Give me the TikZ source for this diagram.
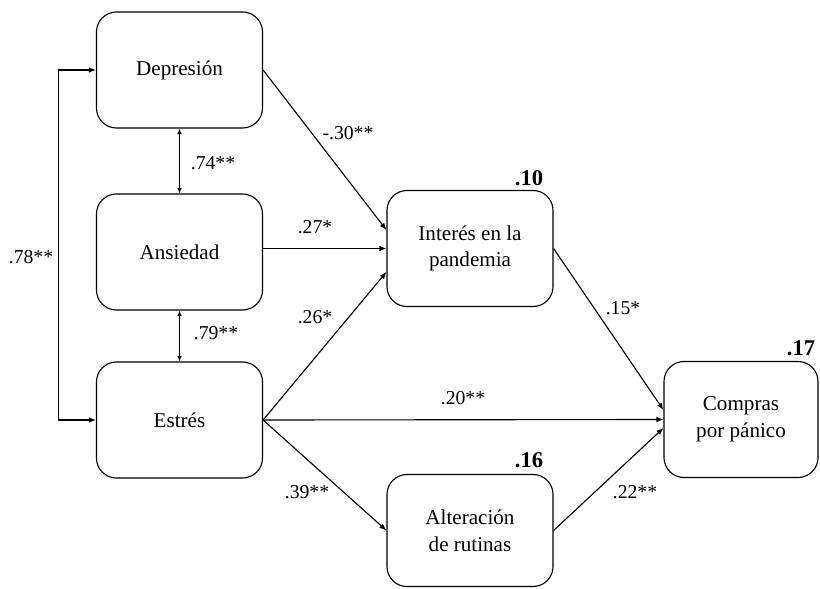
\documentclass[tikz,border=0pt]{standalone}
\usepackage{fontspec}
\setmainfont{Liberation Serif}
\usetikzlibrary{arrows.meta,calc}

\begin{document}
\begin{tikzpicture}[x=0.025cm, y=-0.025cm,
      every node/.style={font=\fontsize{14}{16.5}\selectfont},
      var/.style={draw, line width=0.8pt, rounded corners=0.5cm, fill=white,
          minimum width=4.15cm, minimum height=2.9cm, align=center,
          font=\fontsize{15}{19}\selectfont},
      path/.style={line width=0.8pt, line join=miter,
          -{Latex[length=5pt,width=4pt]}},
      coef/.style={inner sep=1pt},
      rsq/.style={inner sep=1pt, font=\fontsize{16}{18}\selectfont\bfseries}]
    \useasboundingbox (0,0) rectangle (820,589);
    % variables
    \node[var] (DEP) at (179.5,70) {Depresión};
    \node[var] (ANS) at (179.5,252) {Ansiedad};
    \node[var] (EST) at (179.5,420) {Estrés};
    \node[var] (INT) at (470,248.5) {Interés en la\\pandemia};
    \node[var, minimum height=2.8cm] (ALT) at (470,530.5) {Alteración\\de rutinas};
    \node[var, minimum width=3.85cm] (COM) at (741,419.5) {Compras\\por pánico};
    % correlations
    \draw[path, {Latex[length=5pt,width=4pt]}-{Latex[length=5pt,width=4pt]}]
        (DEP.west) -- ++(-37,0) |- (EST.west);
    \draw[path, {Latex[length=4pt,width=3.5pt]}-{Latex[length=4pt,width=3.5pt]}]
        (DEP.south) -- (ANS.north);
    \draw[path, {Latex[length=4pt,width=3.5pt]}-{Latex[length=4pt,width=3.5pt]}]
        (ANS.south) -- (EST.north);
    % paths
    \draw[path] (DEP.east) -- ($(INT.west)+(0,-18.5)$);
    \draw[path] (ANS.east |- INT.west) -- (INT.west);
    \draw[path] (EST.east) -- ($(INT.west)+(0,23.5)$);
    \draw[path] (EST.east) -- (COM.west);
    \draw[path] (EST.east) -- (ALT.west);
    \draw[path] (INT.east) -- ($(COM.west)+(0,-9.5)$);
    \draw[path] (ALT.east) -- ($(COM.west)+(0,8.5)$);
    % coefficients
    \node[coef] (c78) at (31,257) {.78**};
    \node[coef] (c74) at (213,163) {.74**};
    \node[coef] (c79) at (216,333) {.79**};
    \node[coef] (c30) at (348,133) {-.30**};
    \node[coef] (c27) at (315,227) {.27*};
    \node[coef] (c26) at (315,317) {.26*};
    \node[coef] (c39) at (307,492) {.39**};
    \node[coef] (c20) at (463,398) {.20**};
    \node[coef] (c15) at (623,308) {.15*};
    \node[coef] (c22) at (635,492) {.22**};
    % explained variance
    \node[rsq] (r10) at (529,178) {.10};
    \node[rsq] (r16) at (529,460) {.16};
    \node[rsq] (r17) at (801,348) {.17};
  \end{tikzpicture}
\end{document}
